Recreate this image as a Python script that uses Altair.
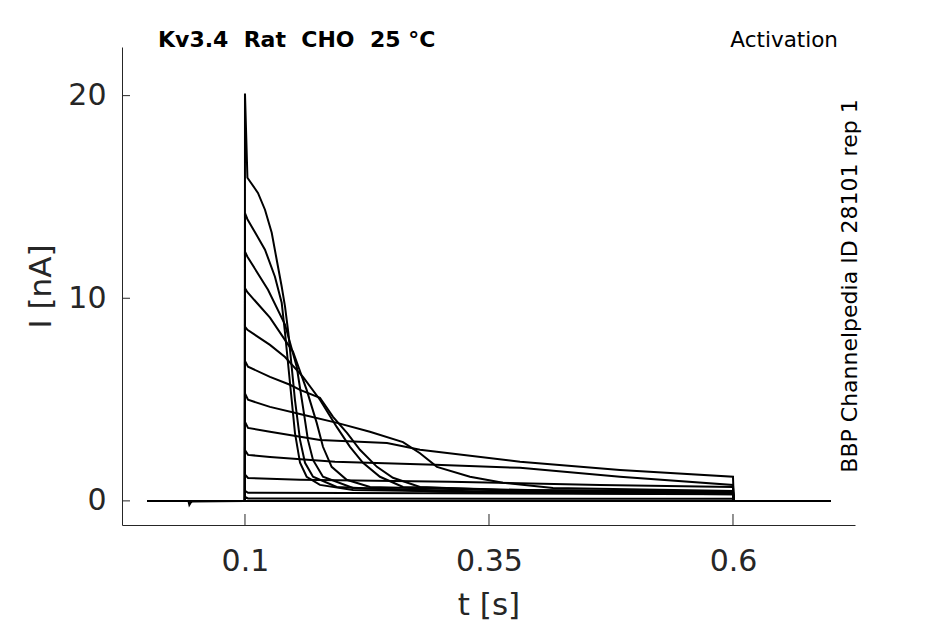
import altair as alt
import pandas as pd

TITLE = "Kv3.4\u00a0 Rat\u00a0 CHO\u00a0 25 °C"
PROTOCOL = "Activation"
SOURCE = "BBP Channelpedia ID 28101 rep 1"
X_TITLE = "t [s]"
Y_TITLE = "I [nA]"
X_TICKS = [0.1, 0.35, 0.6]
Y_TICKS = [0, 10, 20]
X_DOMAIN = [-0.026, 0.725]
Y_DOMAIN = [-1.19, 22.4]

# holding level before and after the step (nA)
PRE_T = [0.0, 0.0999]
PRE_I = [0.0, 0.0]
POST_T = [0.6008, 0.7]
POST_I = [0.0, 0.0]

A_T = [0.1, 0.1025, 0.1133, 0.1205, 0.1274, 0.1325, 0.1376, 0.141, 0.1444, 0.1512, 0.1564, 0.1615, 0.1697, 0.194, 0.3, 0.6]
A_I = [20.1, 15.95, 15.2, 14.37, 13.23, 11.9, 10.58, 9.6, 8.3, 4.99, 3.01, 1.88, 1.19, 0.69, 0.45, 0.35]

B_T = [0.1, 0.1025, 0.1205, 0.1307, 0.1376, 0.141, 0.1461, 0.1512, 0.1564, 0.1632, 0.1768, 0.2107, 0.4, 0.6]
B_I = [14.2, 13.9, 12.4, 11.06, 9.78, 8.3, 5.83, 3.36, 1.88, 1.19, 0.79, 0.54, 0.4, 0.33]

C_T = [0.1, 0.1025, 0.1236, 0.141, 0.153, 0.1594, 0.1645, 0.1697, 0.1799, 0.2107, 0.35, 0.6]
C_I = [12.3, 12.05, 10.42, 8.7, 6.62, 4.64, 3.01, 2.02, 1.19, 0.64, 0.45, 0.38]

D_T = [0.1, 0.1025, 0.1256, 0.143, 0.1492, 0.1632, 0.1735, 0.1799, 0.1888, 0.2042, 0.2281, 0.4, 0.6]
D_I = [10.5, 10.3, 9.04, 7.8, 7.36, 5.48, 3.85, 2.67, 1.68, 1.04, 0.69, 0.48, 0.42]

E_T = [0.1, 0.1025, 0.1256, 0.141, 0.1594, 0.1768, 0.194, 0.2076, 0.2209, 0.2383, 0.2619, 0.4, 0.6]
E_I = [8.6, 8.44, 7.7, 7.1, 6.12, 4.99, 3.65, 2.67, 1.88, 1.19, 0.69, 0.52, 0.45]

F_T = [0.1, 0.1031, 0.1256, 0.1461, 0.1564, 0.1768, 0.1902, 0.2045, 0.2178, 0.2352, 0.2516, 0.2793, 0.3613, 0.6]
F_I = [6.9, 6.62, 6.12, 5.73, 5.48, 5.09, 4.15, 3.36, 2.52, 1.68, 1.14, 0.69, 0.54, 0.46]

G_T = [0.1, 0.1031, 0.1256, 0.1594, 0.1943, 0.228, 0.2619, 0.2793, 0.2967, 0.3305, 0.3643, 0.4156, 0.6]
G_I = [5.3, 4.99, 4.64, 4.25, 3.85, 3.41, 2.9, 2.35, 1.68, 1.19, 0.89, 0.64, 0.49]

H_T = [0.1, 0.1031, 0.1256, 0.1768, 0.2455, 0.2793, 0.3818, 0.4842, 0.6]
H_I = [3.9, 3.6, 3.41, 3.01, 2.86, 2.52, 1.93, 1.53, 1.19]

I_T = [0.1, 0.1031, 0.1256, 0.1922, 0.2946, 0.3818, 0.4842, 0.6]
I_I = [2.5, 2.27, 2.17, 1.93, 1.78, 1.63, 1.19, 0.79]

J_T = [0.1, 0.1031, 0.1564, 0.31, 0.4637, 0.6]
J_I = [1.3, 1.13, 1.04, 0.94, 0.79, 0.69]

K_T = [0.1, 0.1031, 0.3, 0.6]
K_I = [0.5, 0.4, 0.38, 0.33]

L_T = [0.1, 0.1031, 0.6]
L_I = [0.2, 0.12, 0.1]

# trace with the small artefact before the step
M_T = [0.0, 0.042, 0.043, 0.0445, 0.046, 0.0999, 0.1, 0.6, 0.7]
M_I = [0.0, 0.0, -0.2, -0.08, -0.03, 0.0, 0.0, 0.0, 0.0]

TRACES = {
    "A": (PRE_T + A_T + POST_T, PRE_I + A_I + POST_I),
    "B": (PRE_T + B_T + POST_T, PRE_I + B_I + POST_I),
    "C": (PRE_T + C_T + POST_T, PRE_I + C_I + POST_I),
    "D": (PRE_T + D_T + POST_T, PRE_I + D_I + POST_I),
    "E": (PRE_T + E_T + POST_T, PRE_I + E_I + POST_I),
    "F": (PRE_T + F_T + POST_T, PRE_I + F_I + POST_I),
    "G": (PRE_T + G_T + POST_T, PRE_I + G_I + POST_I),
    "H": (PRE_T + H_T + POST_T, PRE_I + H_I + POST_I),
    "I": (PRE_T + I_T + POST_T, PRE_I + I_I + POST_I),
    "J": (PRE_T + J_T + POST_T, PRE_I + J_I + POST_I),
    "K": (PRE_T + K_T + POST_T, PRE_I + K_I + POST_I),
    "L": (PRE_T + L_T + POST_T, PRE_I + L_I + POST_I),
    "M": (M_T, M_I),
}

rows = []
for name, (ts, vs) in TRACES.items():
    for k, (t, v) in enumerate(zip(ts, vs)):
        rows.append({"trace": name, "idx": k, "t": t, "I": v})
df = pd.DataFrame(rows)

W, H = 733, 478
FONT = "DejaVu Sans"
AX = "#262626"

xscale = alt.Scale(domain=X_DOMAIN, nice=False, zero=False)
yscale = alt.Scale(domain=Y_DOMAIN, nice=False, zero=False)

xaxis = alt.Axis(
    values=X_TICKS, format=".2~f", title=X_TITLE, grid=False, ticks=False, tickSize=0,
    labelFont=FONT, labelFontSize=30, labelColor=AX, labelPadding=21,
    domain=True, domainColor=AX, domainWidth=1,
    titleFont=FONT, titleFontSize=31, titleFontWeight="normal", titleColor=AX,
    titleBaseline="alphabetic", titleY=89)
yaxis = alt.Axis(
    values=Y_TICKS, title=Y_TITLE, grid=False, ticks=False, tickSize=0,
    labelFont=FONT, labelFontSize=30, labelColor=AX, labelPadding=16,
    domain=True, domainColor=AX, domainWidth=1,
    titleFont=FONT, titleFontSize=31, titleFontWeight="normal", titleColor=AX,
    titleBaseline="alphabetic", titleAngle=270, titleX=-72, titleY=H / 2)

lines = alt.Chart(df).mark_line(color="black", strokeWidth=2).encode(
    x=alt.X("t:Q", scale=xscale, axis=xaxis),
    y=alt.Y("I:Q", scale=yscale, axis=yaxis),
    detail="trace:N",
    order="idx:Q",
)

xt = alt.Chart(pd.DataFrame({"t": X_TICKS})).mark_rule(color=AX, strokeWidth=1).encode(
    x=alt.X("t:Q", scale=xscale, axis=xaxis),
    y=alt.value(H), y2=alt.value(H - 11),
)
yt = alt.Chart(pd.DataFrame({"I": Y_TICKS})).mark_rule(color=AX, strokeWidth=1).encode(
    y=alt.Y("I:Q", scale=yscale, axis=yaxis),
    x=alt.value(0), x2=alt.value(8),
)

title_txt = alt.Chart(pd.DataFrame({"s": [TITLE]})).mark_text(
    align="left", baseline="alphabetic", font=FONT, fontSize=22, fontWeight="bold", color="black"
).encode(x=alt.value(36), y=alt.value(0), text="s:N")

prot_txt = alt.Chart(pd.DataFrame({"s": [PROTOCOL]})).mark_text(
    align="right", baseline="alphabetic", font=FONT, fontSize=21.5, color="black"
).encode(x=alt.value(716), y=alt.value(0), text="s:N")

src_txt = alt.Chart(pd.DataFrame({"s": [SOURCE]})).mark_text(
    align="center", baseline="alphabetic", angle=270, font=FONT, fontSize=22, color="black"
).encode(x=alt.value(735), y=alt.value(H / 2), text="s:N")

chart = alt.layer(lines, xt, yt, title_txt, prot_txt, src_txt).properties(
    width=W, height=H,
    autosize=alt.AutoSizeParams(type="none"),
    padding={"left": 114, "top": 39, "right": 60, "bottom": 100},
    background="white",
).configure_view(stroke=None)

chart.save("out.html", embed_options={"renderer": "svg", "actions": False})
